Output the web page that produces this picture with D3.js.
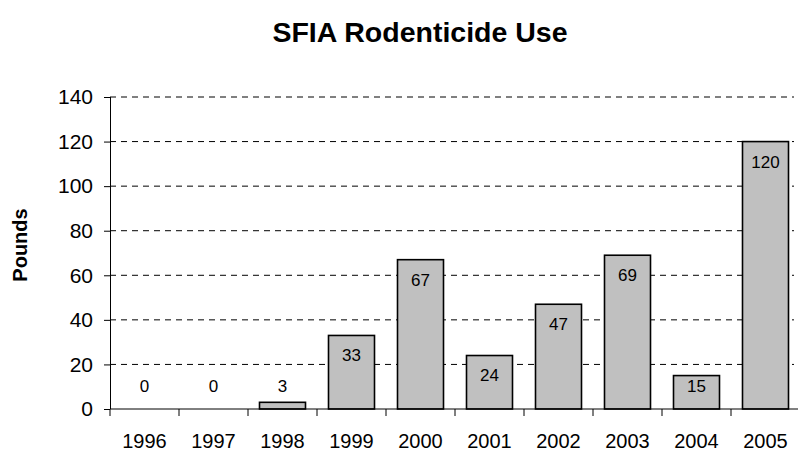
<!DOCTYPE html>
<html>
<head>
<meta charset="utf-8">
<script src="https://cdn.jsdelivr.net/npm/d3@7"></script>
<style>
  html, body { margin: 0; padding: 0; background: #fff; }
  svg { display: block; font-family: "Liberation Sans", Arial, sans-serif; }
</style>
</head>
<body>
<svg id="chart" width="798" height="457"></svg>
<script>
// Annual rodenticide use, pounds
const years = ["1996", "1997", "1998", "1999", "2000", "2001", "2002", "2003", "2004", "2005"];
const pounds = [0, 0, 3, 33, 67, 24, 47, 69, 15, 120];
const yTicks = [0, 20, 40, 60, 80, 100, 120, 140];
const titleText = "SFIA Rodenticide Use";
const yTitle = "Pounds";

const svg = d3.select("#chart");
const plotL = 110, plotR = 800, plotT = 97, plotB = 409;

const x = d3.scaleBand().domain(years).range([plotL, plotR]).paddingInner(1 / 3).paddingOuter(1 / 6);
const y = d3.scaleLinear().domain([0, 140]).range([plotB, plotT]);

// dashed horizontal gridlines
svg.append("g")
  .selectAll("line")
  .data(yTicks.filter(d => d > 0))
  .join("line")
  .attr("x1", plotL).attr("x2", plotR - 6)
  .attr("y1", d => y(d)).attr("y2", d => y(d))
  .attr("stroke", "#000").attr("stroke-width", 1)
  .attr("stroke-dasharray", "6,5");

// bars
svg.append("g")
  .selectAll("rect")
  .data(years.map((yr, i) => ({ yr, v: pounds[i] })))
  .join("rect")
  .attr("x", d => x(d.yr))
  .attr("y", d => y(d.v))
  .attr("width", x.bandwidth())
  .attr("height", d => y(0) - y(d.v))
  .attr("fill", "#c0c0c0")
  .attr("stroke", "#000")
  .attr("stroke-width", 1.6)
  .attr("display", d => d.v > 0 ? null : "none");

// value labels, inside the top of each bar
svg.append("g")
  .selectAll("text")
  .data(years.map((yr, i) => ({ yr, v: pounds[i] })))
  .join("text")
  .attr("x", d => x(d.yr) + x.bandwidth() / 2)
  .attr("y", d => Math.min(y(d.v) + 20, y(0) - 23))
  .attr("dy", "0.35em")
  .attr("text-anchor", "middle")
  .attr("font-size", 17)
  .attr("fill", "#000")
  .text(d => d.v);

// y axis
const yAxis = svg.append("g")
  .attr("transform", `translate(${plotL},0)`)
  .call(d3.axisLeft(y).tickValues(yTicks).tickSize(6).tickPadding(11).tickFormat(d3.format("d")));
yAxis.select(".domain").attr("stroke", "#000").attr("d", `M0.5,${plotT}V${plotB}`);
yAxis.selectAll(".tick line").attr("stroke", "#000");
yAxis.selectAll(".tick text").attr("font-size", 21).attr("fill", "#000")
  .attr("font-family", "Liberation Sans, Arial, sans-serif");

// x axis with ticks on category boundaries
const xAxisG = svg.append("g").attr("transform", `translate(0,${plotB})`);
xAxisG.append("line")
  .attr("x1", plotL).attr("x2", plotR).attr("y1", 0).attr("y2", 0)
  .attr("stroke", "#000").attr("stroke-width", 1);
const step = x.step();
xAxisG.selectAll("line.tk")
  .data(d3.range(years.length + 1))
  .join("line")
  .attr("class", "tk")
  .attr("x1", i => plotL + i * step).attr("x2", i => plotL + i * step)
  .attr("y1", 0).attr("y2", 7)
  .attr("stroke", "#000");
xAxisG.selectAll("text")
  .data(years)
  .join("text")
  .attr("x", d => x(d) + x.bandwidth() / 2)
  .attr("y", 39)
  .attr("text-anchor", "middle")
  .attr("font-size", 20)
  .attr("fill", "#000")
  .text(d => d);

// titles
svg.append("text")
  .attr("x", 420).attr("y", 42)
  .attr("text-anchor", "middle")
  .attr("font-size", 28.5).attr("font-weight", "bold")
  .text(titleText);

svg.append("text")
  .attr("transform", `translate(27,${(plotT + plotB) / 2 - 8}) rotate(-90)`)
  .attr("text-anchor", "middle")
  .attr("font-size", 20).attr("font-weight", "bold")
  .text(yTitle);
</script>
</body>
</html>
